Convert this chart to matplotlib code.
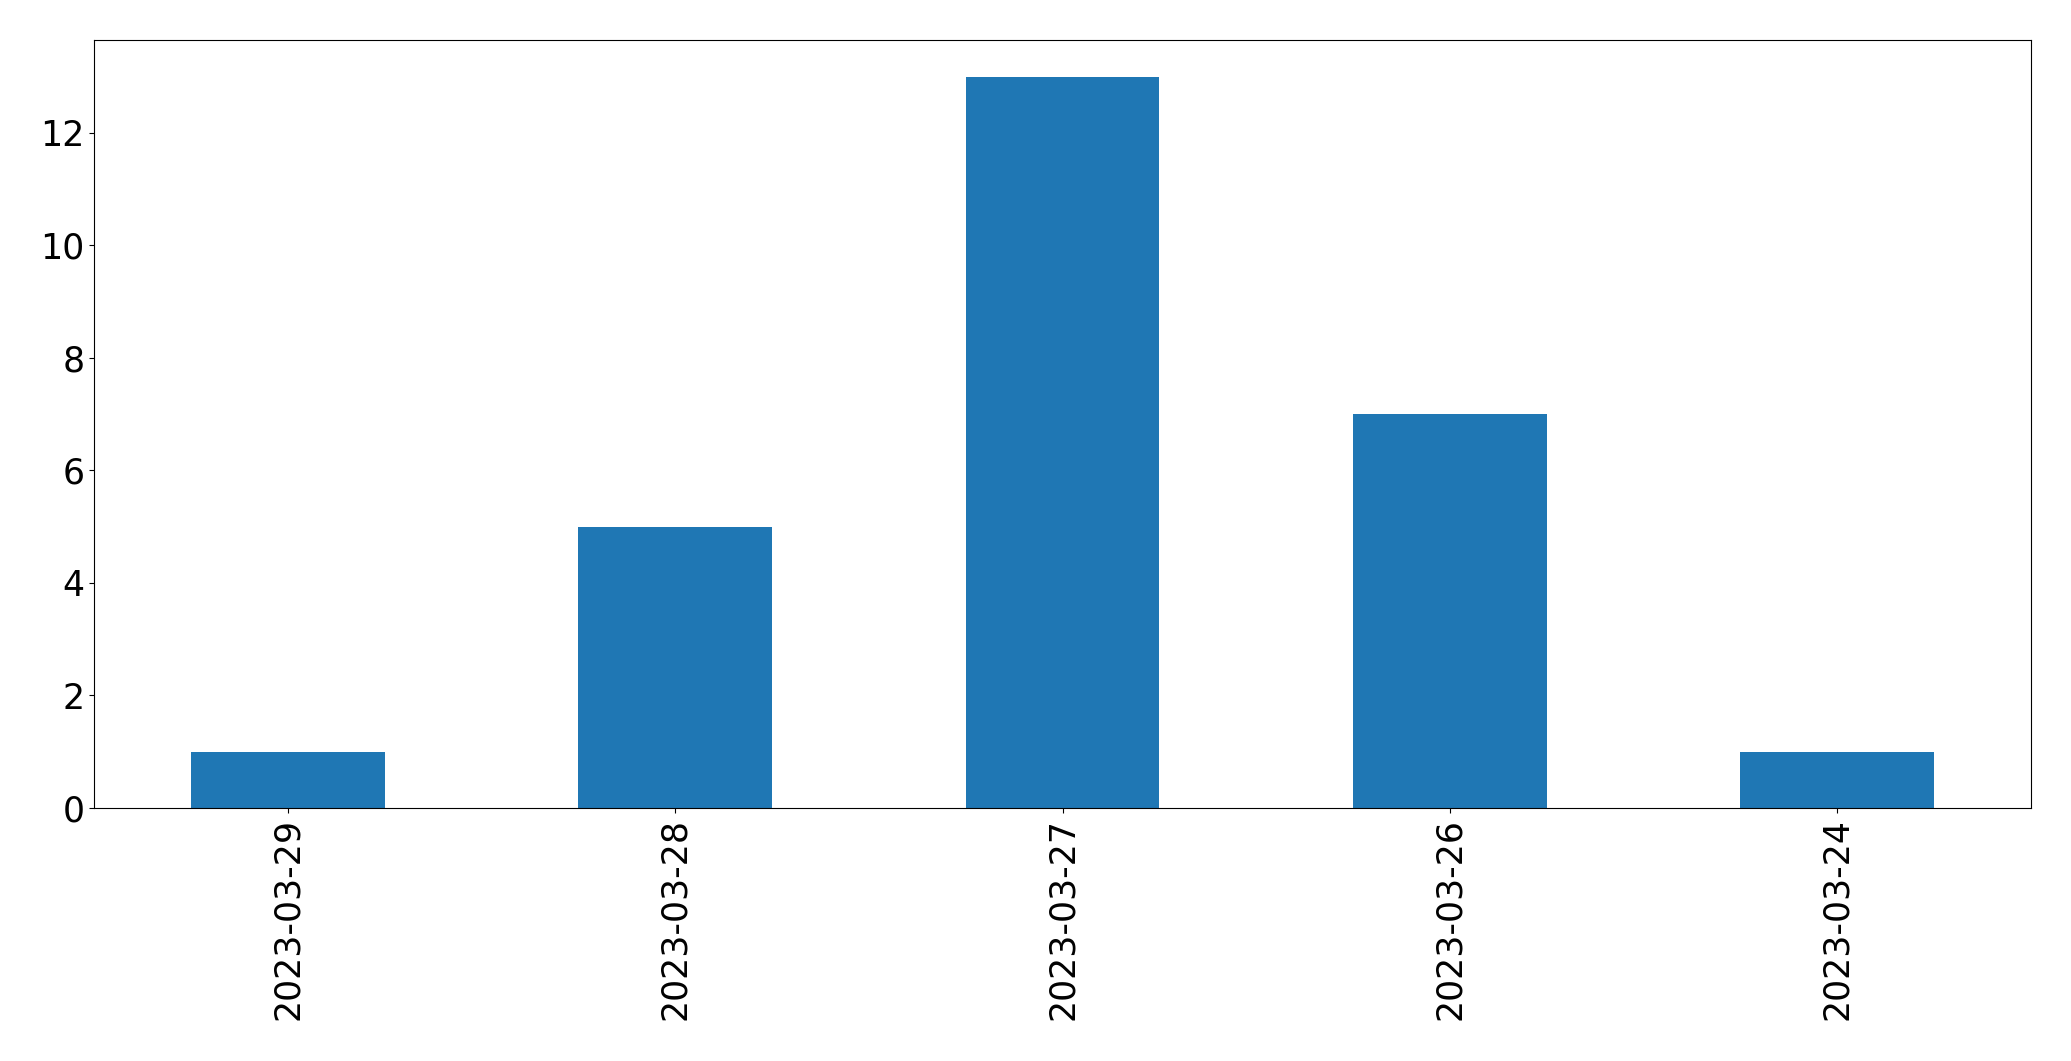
import matplotlib
matplotlib.use('Agg')
import matplotlib.pyplot as plt
import numpy as np

plt.rc('font', size=25)

dates = ['2023-03-29', '2023-03-28', '2023-03-27', '2023-03-26', '2023-03-24']
counts = [1, 5, 13, 7, 1]

fig = plt.figure(figsize=(20.71, 10.61), dpi=100)
ax = fig.add_axes([0.0454, 0.2385, 0.9353, 0.7238])
x = np.arange(len(dates))
ax.bar(x, counts, width=0.5, color='#1f77b4')
ax.set_xticks(x)
ax.set_xticklabels(dates, rotation=90)
ax.set_xlim(-0.5, len(dates) - 0.5)

fig.savefig('out.png', dpi=100)
